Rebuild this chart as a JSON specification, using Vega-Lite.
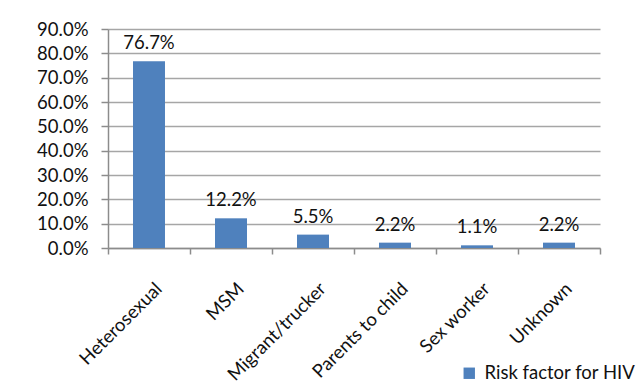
{
  "$schema": "https://vega.github.io/schema/vega-lite/v6.json",
  "width": 492,
  "height": 219,
  "autosize": {"type": "none"},
  "padding": {"left": 108, "top": 29, "right": 40, "bottom": 143},
  "background": "white",
  "config": {
    "view": {"stroke": null},
    "font": "Lato",
    "text": {"font": "Lato"}
  },
  "data": {
    "values": [
      {"factor": "Heterosexual", "pct": 0.767},
      {"factor": "MSM", "pct": 0.122},
      {"factor": "Migrant/trucker", "pct": 0.055},
      {"factor": "Parents to child", "pct": 0.022},
      {"factor": "Sex worker", "pct": 0.011},
      {"factor": "Unknown", "pct": 0.022}
    ]
  },
  "encoding": {
    "x": {
      "field": "factor",
      "type": "nominal",
      "sort": null,
      "scale": {"paddingInner": 0, "paddingOuter": 0},
      "axis": {
        "title": null,
        "tickBand": "extent",
        "tickSize": 6,
        "tickColor": "#8c8c8c",
        "domainColor": "#8c8c8c",
        "domainWidth": 1.5,
        "tickWidth": 1.5,
        "labelAngle": -45,
        "labelAlign": "right",
        "labelBaseline": "top",
        "labelPadding": 25,
        "labelOffset": 3,
        "labelFontSize": 18.5,
        "labelColor": "#111111",
        "grid": false
      }
    },
    "y": {
      "field": "pct",
      "type": "quantitative",
      "scale": {"domain": [0, 0.9]},
      "axis": {
        "title": null,
        "format": ".1%",
        "values": [0, 0.1, 0.2, 0.3, 0.4, 0.5, 0.6, 0.7, 0.8, 0.9],
        "tickSize": 7,
        "tickColor": "#8c8c8c",
        "tickWidth": 1.5,
        "domainColor": "#8c8c8c",
        "domainWidth": 1.5,
        "gridColor": "#a6a6a6",
        "gridWidth": 1.5,
        "labelPadding": 13,
        "labelFontSize": 18.5,
        "labelColor": "#111111"
      }
    }
  },
  "layer": [
    {
      "mark": {"type": "bar", "width": {"band": 0.39}},
      "encoding": {
        "color": {
          "datum": "Risk factor for HIV",
          "type": "nominal",
          "scale": {"range": ["#4F81BD"]},
          "legend": {
            "title": null,
            "orient": "none",
            "legendX": 352,
            "legendY": 335,
            "symbolType": "square",
            "symbolSize": 130,
            "symbolStrokeWidth": 0,
            "labelFontSize": 18.5,
            "labelColor": "#111111",
            "labelOffset": 6
          }
        }
      }
    },
    {
      "mark": {"type": "text", "baseline": "bottom", "dy": -8, "fontSize": 18.5, "color": "#111111"},
      "encoding": {
        "text": {"field": "pct", "type": "quantitative", "format": ".1%"}
      }
    }
  ]
}
